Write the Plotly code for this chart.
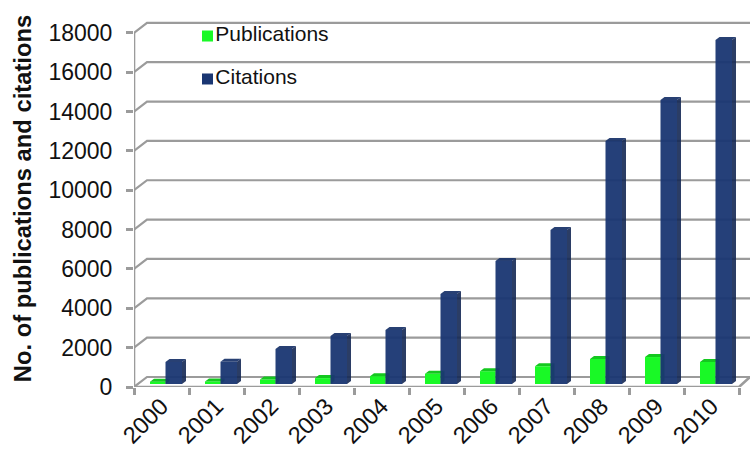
import plotly.graph_objects as go

years = ["2000","2001","2002","2003","2004","2005","2006","2007","2008","2009","2010"]
series_names = ["Publications", "Citations"]
publications = [120,130,230,300,400,520,650,900,1270,1370,1120]
citations = [1120,1130,1780,2440,2745,4575,6250,7830,12350,14430,17480]
y_ticks = [0,2000,4000,6000,8000,10000,12000,14000,16000,18000]

GRAY = "#9b9b9b"
GREEN = "#19f926"
BLUE = "#1a3672"
FONT = "Liberation Sans, Arial, sans-serif"

# scale helpers: category = 55 px, 2000 units = 39.35 px
PX_X = 1/55
PX_Y = 2000/39.35
wall_dx, wall_dy = 13*PX_X, 10*PX_Y
bar_dx, bar_dy = 4*PX_X, 3*PX_Y
x_max = 616*PX_X
y_top = 377*PX_Y
lift = 3*PX_Y

grid_x, grid_y = [], []
for t in y_ticks:
    grid_x += [0, wall_dx, x_max, None]
    grid_y += [t, t+wall_dy, t+wall_dy, None]
# front floor edge with right slant
frame_x = [0, len(years), x_max, None, 0, 0]
frame_y = [0, 0, wall_dy, None, 0, max(y_ticks)]

def faces(offset, width, values):
    sx, sy, tx, ty = [], [], [], []
    for i, v in enumerate(values):
        l = i+offset; r = l+width
        sx += [r, r+bar_dx, r+bar_dx, r, r, None]
        sy += [0, bar_dy, v+bar_dy, v, 0, None]
        tx += [l, l+bar_dx, r+bar_dx, r, l, None]
        ty += [v, v+bar_dy, v+bar_dy, v, v, None]
    return sx, sy, tx, ty

fig = go.Figure()
fig.add_trace(go.Scatter(x=grid_x, y=grid_y, mode="lines", line=dict(color=GRAY, width=2.2),
                         showlegend=False, hoverinfo="skip", xaxis="x", yaxis="y"))
fig.add_trace(go.Scatter(x=frame_x, y=frame_y, mode="lines", line=dict(color=GRAY, width=2.6),
                         showlegend=False, hoverinfo="skip", xaxis="x", yaxis="y", cliponaxis=False))

GREEN_OFF, GREEN_W = 16*PX_X, 15.5*PX_X
BLUE_OFF, BLUE_W = 31.5*PX_X, 16.5*PX_X

sx, sy, tx, ty = faces(GREEN_OFF, GREEN_W, publications)
fig.add_trace(go.Bar(x=list(range(len(years))), y=publications, width=GREEN_W, offset=GREEN_OFF,
                     name=series_names[0], marker=dict(color=GREEN, line_width=0), showlegend=False,
                     xaxis="x", yaxis="y2"))
fig.add_trace(go.Scatter(x=tx, y=ty, mode="lines", fill="toself", fillcolor="#14c81f", line_width=0,
                         showlegend=False, hoverinfo="skip", xaxis="x", yaxis="y2"))
fig.add_trace(go.Scatter(x=sx, y=sy, mode="lines", fill="toself", fillcolor="#12b01c", line_width=0,
                         showlegend=False, hoverinfo="skip", xaxis="x", yaxis="y2"))

sx, sy, tx, ty = faces(BLUE_OFF, BLUE_W, citations)
fig.add_trace(go.Bar(x=list(range(len(years))), y=citations, width=BLUE_W, offset=BLUE_OFF,
                     name=series_names[1], marker=dict(color=BLUE, line_width=0), opacity=0.95, showlegend=False,
                     xaxis="x", yaxis="y4"))
fig.add_trace(go.Scatter(x=tx, y=ty, mode="lines", fill="toself", fillcolor="rgba(24,50,104,0.93)", line_width=0,
                         showlegend=False, hoverinfo="skip", xaxis="x", yaxis="y4"))
fig.add_trace(go.Scatter(x=sx, y=sy, mode="lines", fill="toself", fillcolor="rgba(20,40,84,0.9)", line_width=0,
                         showlegend=False, hoverinfo="skip", xaxis="x", yaxis="y4"))

# legend keys: square marker with label, placed in axes-fraction coordinates
for name, colour, ky in zip(series_names, [GREEN, BLUE], [0.931, 0.817]):
    fig.add_trace(go.Scatter(x=[0.1193], y=[ky], mode="markers+text", text=[name], textposition="middle right",
                             xaxis="x3", yaxis="y3", showlegend=False, hoverinfo="skip", cliponaxis=False,
                             textfont=dict(size=21, color="#111111"),
                             marker=dict(symbol="square", size=11, color=colour)))

fig.update_layout(
    width=750, height=452, margin=dict(l=134, r=0, t=10, b=65),
    plot_bgcolor="white", paper_bgcolor="white", barmode="overlay",
    font=dict(family=FONT, size=22, color="#111111"),
    xaxis=dict(range=[0, x_max], tickmode="array", tickvals=[i+0.5 for i in range(len(years))],
               ticktext=years, tickangle=-45, ticklen=0, showgrid=False, zeroline=False,
               showline=False,
               minor=dict(ticks="outside", tick0=0, dtick=1, ticklen=7, tickcolor=GRAY, tickwidth=2.5, showgrid=False),
               tickfont=dict(size=23.5)),
    yaxis=dict(range=[0, y_top], tickmode="array", tickvals=y_ticks, tickformat="d", ticks="outside", ticklen=7,
               tickcolor=GRAY, tickwidth=2.5, showgrid=False, zeroline=False, showline=False,
               tickfont=dict(size=23), ticklabelstandoff=9,
               title=dict(text="<b>No. of publications and citations</b>", font=dict(size=23.8), standoff=10)),
    yaxis2=dict(range=[-lift, y_top-lift], overlaying="y", visible=False),
    yaxis4=dict(range=[-lift, y_top-lift], overlaying="y", visible=False),
    xaxis3=dict(range=[0, 1], overlaying="x", visible=False),
    yaxis3=dict(range=[0, 1], overlaying="y", visible=False),
)
fig.write_html("out.html", post_script="document.body.style.margin='0';", config={"displayModeBar": False})
